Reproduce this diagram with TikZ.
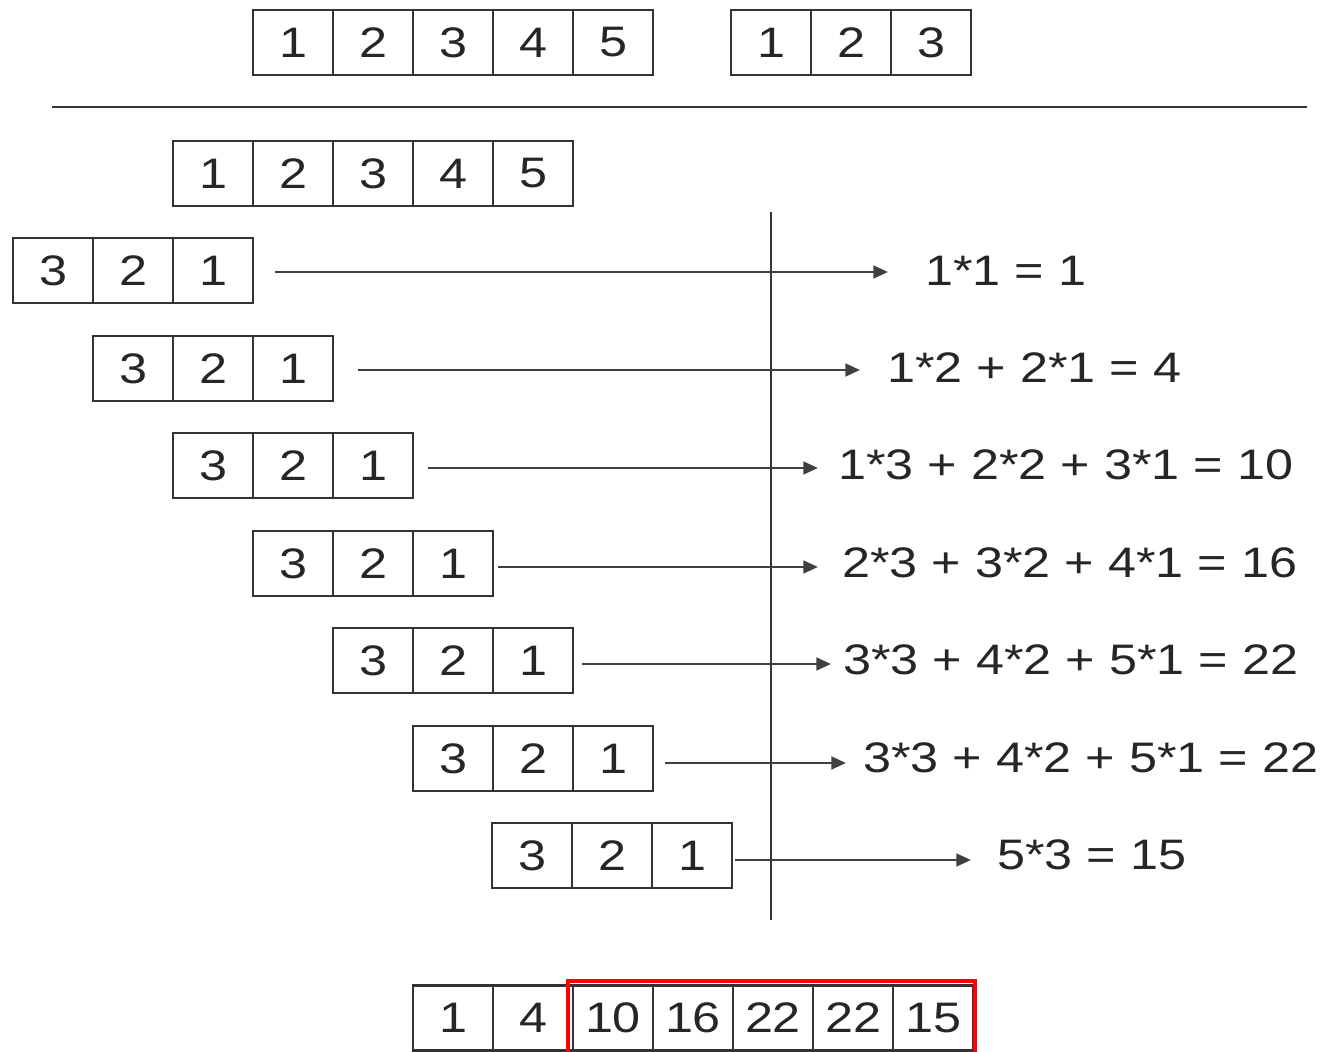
\documentclass[tikz,border=0pt]{standalone}
\usepackage{fontspec}
\setmainfont[FakeStretch=1.18]{Liberation Sans}
\usetikzlibrary{arrows.meta}
\begin{document}
\begin{tikzpicture}[x=0.75pt,y=-0.75pt,
  cellb/.style={draw=black!80,line width=2.1pt,minimum width=60pt,minimum height=48.75pt,inner sep=0pt,
    font=\fontsize{32}{36}\selectfont,text=black!85},
  lbl/.style={anchor=west,inner sep=0pt,font=\fontsize{32}{36}\selectfont,text=black!85},
  arr/.style={draw=black!75,line width=2pt,-{Triangle[length=11pt,width=9.5pt]}},
  rule/.style={draw=black!80,line width=2.2pt}]
\clip (0,0) rectangle (1325,1052);
\fill[white] (0,0) rectangle (1325,1052);
% top inputs
\foreach \v [count=\i] in {1,2,3,4,5}{\node[cellb] (a\i) at (213+80*\i,42.5) {\v};}
\foreach \v [count=\i] in {1,2,3}{\node[cellb] (b\i) at (691+80*\i,42.5) {\v};}
\coordinate (hl) at (52,107); \coordinate (hr) at (1307,107);
\draw[rule] (hl) -- (hr);
% signal row
\foreach \v [count=\i] in {1,2,3,4,5}{\node[cellb] (s\i) at (133+80*\i,173.5) {\v};}
% kernel rows
\foreach \k/\yy/\xx in {1/270.5/53,2/368.5/133,3/465.5/213,4/563.5/293,5/660.5/373,6/758.5/453,7/855.5/532}{
  \node[cellb] (k\k c1) at (\xx,\yy) {3};
  \node[cellb] (k\k c2) at (\xx+80,\yy) {2};
  \node[cellb] (k\k c3) at (\xx+160,\yy) {1};
}
% vertical line
\coordinate (vt) at (771,212); \coordinate (vb) at (771,920);
\draw[rule] (vt) -- (vb);
% labels
\node[lbl] (t1) at (925,271) {1*1 = 1};
\node[lbl] (t2) at (887,368) {1*2 + 2*1 = 4};
\node[lbl] (t3) at (838,465) {1*3 + 2*2 + 3*1 = 10};
\node[lbl] (t4) at (842,563) {2*3 + 3*2 + 4*1 = 16};
\node[lbl] (t5) at (843,660) {3*3 + 4*2 + 5*1 = 22};
\node[lbl] (t6) at (863,758) {3*3 + 4*2 + 5*1 = 22};
\node[lbl] (t7) at (997,855) {5*3 = 15};
% arrows
\coordinate (p1) at (275,272); \coordinate (q1) at (888,272);
\coordinate (p2) at (358,370); \coordinate (q2) at (860,370);
\coordinate (p3) at (428,468); \coordinate (q3) at (818,468);
\coordinate (p4) at (498,567); \coordinate (q4) at (818,567);
\coordinate (p5) at (582,664); \coordinate (q5) at (831,664);
\coordinate (p6) at (665,763); \coordinate (q6) at (846,763);
\coordinate (p7) at (735,860); \coordinate (q7) at (971,860);
\foreach \k in {1,...,7}{\draw[arr] (p\k) -- (q\k);}
% result row
\foreach \v [count=\i] in {1,4,10,16,22,22,15}{\node[cellb] (r\i) at (373+80*\i,1018) {\v};}
\coordinate (hbl) at (568,1060); \coordinate (htr) at (975,981);
\draw[red,line width=3pt] (hbl) |- (htr) -- (htr |- hbl);
\end{tikzpicture}
\end{document}
